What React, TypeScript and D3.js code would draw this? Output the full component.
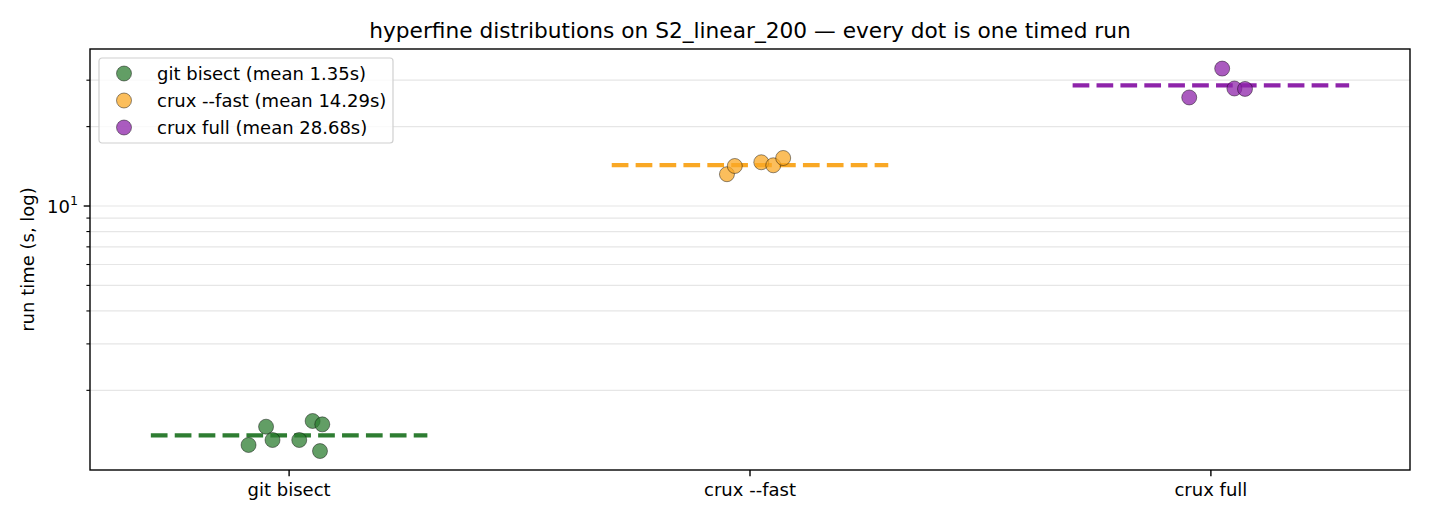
import React, { useEffect, useRef } from 'react';
import * as d3 from 'd3';

const WIDTH = 1430;
const HEIGHT = 520;

// categories along x
const categories = ['git bisect', 'crux --fast', 'crux full'];
const legendLabels = [
  'git bisect (mean 1.35s)',
  'crux --fast (mean 14.29s)',
  'crux full (mean 28.68s)',
];
const lineColors = ['#2e7d32', '#f9a825', '#8e24aa'];
const means = [1.35, 14.29, 28.68];

// per-run timings (seconds) and their horizontal jitter
const gitRuns = [1.241, 1.456, 1.296, 1.296, 1.53, 1.486, 1.177];
const gitJitter = [-0.088, -0.05, -0.036, 0.022, 0.051, 0.072, 0.067];
const fastRuns = [13.2, 14.18, 14.65, 14.27, 15.21];
const fastJitter = [-0.05, -0.033, 0.0245, 0.0505, 0.072];
const fullRuns = [33.2, 25.8, 27.9, 27.8];
const fullJitter = [0.0245, -0.047, 0.051, 0.074];

const runs = [gitRuns, fastRuns, fullRuns];
const jitters = [gitJitter, fastJitter, fullJitter];

const minorTicks = [2, 3, 4, 5, 6, 7, 8, 9, 20, 30];

const App: React.FC = () => {
  const svgRef = useRef<SVGSVGElement>(null);

  useEffect(() => {
    if (!svgRef.current) return;
    const svg = d3.select(svgRef.current);
    svg.selectAll('*').remove();

    const margin = { top: 49, right: 20, bottom: 50, left: 90 };
    const x = d3
      .scaleLinear()
      .domain([-0.432, 2.432])
      .range([margin.left, WIDTH - margin.right]);
    const y = d3
      .scaleLog()
      .domain([0.9975, 39.39])
      .range([HEIGHT - margin.bottom, margin.top]);

    const font = 'DejaVu Sans, sans-serif';
    const fs = 18;
    const [x0, x1] = x.range();
    const [yb, yt] = y.range();

    // grid
    svg
      .append('g')
      .selectAll('line')
      .data([...minorTicks, 10])
      .join('line')
      .attr('x1', x0)
      .attr('x2', x1)
      .attr('y1', (d) => y(d))
      .attr('y2', (d) => y(d))
      .attr('stroke', '#e6e6e6')
      .attr('stroke-width', 1.2);

    // mean lines
    svg
      .append('g')
      .selectAll('line')
      .data(means)
      .join('line')
      .attr('x1', (_, i) => x(i - 0.3))
      .attr('x2', (_, i) => x(i + 0.3))
      .attr('y1', (d) => y(d))
      .attr('y2', (d) => y(d))
      .attr('stroke', (_, i) => lineColors[i])
      .attr('stroke-width', 4.3)
      .attr('stroke-dasharray', '16.7 7.2');

    // dots
    runs.forEach((vals, i) => {
      svg
        .append('g')
        .selectAll('circle')
        .data(vals)
        .join('circle')
        .attr('cx', (_, j) => x(i + jitters[i][j]))
        .attr('cy', (d) => y(d))
        .attr('r', 7.5)
        .attr('fill', lineColors[i])
        .attr('fill-opacity', 0.75)
        .attr('stroke', 'rgba(0,0,0,0.55)')
        .attr('stroke-width', 0.8);
    });

    // frame
    svg
      .append('rect')
      .attr('x', x0)
      .attr('y', yt)
      .attr('width', x1 - x0)
      .attr('height', yb - yt)
      .attr('fill', 'none')
      .attr('stroke', '#000')
      .attr('stroke-width', 1.4);

    // x ticks
    const xt = svg.append('g');
    categories.forEach((c, i) => {
      xt.append('line')
        .attr('x1', x(i))
        .attr('x2', x(i))
        .attr('y1', yb)
        .attr('y2', yb + 6.3)
        .attr('stroke', '#000')
        .attr('stroke-width', 1.4);
      xt.append('text')
        .attr('x', x(i))
        .attr('y', yb + 26)
        .attr('text-anchor', 'middle')
        .attr('font-family', font)
        .attr('font-size', fs)
        .text(c);
    });

    // y ticks
    const yg = svg.append('g');
    yg.selectAll('line.minor')
      .data(minorTicks)
      .join('line')
      .attr('x1', x0)
      .attr('x2', x0 - 3.6)
      .attr('y1', (d) => y(d))
      .attr('y2', (d) => y(d))
      .attr('stroke', '#000')
      .attr('stroke-width', 1.1);
    yg.append('line')
      .attr('x1', x0)
      .attr('x2', x0 - 6.3)
      .attr('y1', y(10))
      .attr('y2', y(10))
      .attr('stroke', '#000')
      .attr('stroke-width', 1.4);
    const lab = yg
      .append('text')
      .attr('x', x0 - 12)
      .attr('y', y(10) + 7)
      .attr('text-anchor', 'end')
      .attr('font-family', font)
      .attr('font-size', fs);
    lab.append('tspan').text('10');
    lab
      .append('tspan')
      .attr('dy', -8)
      .attr('font-size', 12.6)
      .text('1');

    // y label
    svg
      .append('text')
      .attr('transform', `translate(34,${(yt + yb) / 2})rotate(-90)`)
      .attr('text-anchor', 'middle')
      .attr('font-family', font)
      .attr('font-size', fs)
      .text('run time (s, log)');

    // title
    svg
      .append('text')
      .attr('x', (x0 + x1) / 2)
      .attr('y', 38)
      .attr('text-anchor', 'middle')
      .attr('font-family', font)
      .attr('font-size', 21.7)
      .text('hyperfine distributions on S2_linear_200 \u2014 every dot is one timed run');

    // legend
    const lg = svg.append('g').attr('transform', 'translate(99,58)');
    lg.append('rect')
      .attr('width', 294)
      .attr('height', 85)
      .attr('rx', 3)
      .attr('fill', 'rgba(255,255,255,0.8)')
      .attr('stroke', '#d0d0d0')
      .attr('stroke-width', 1.2);
    legendLabels.forEach((t, i) => {
      const cy = 15.5 + i * 27;
      lg.append('circle')
        .attr('cx', 25)
        .attr('cy', cy)
        .attr('r', 7.5)
        .attr('fill', lineColors[i])
        .attr('fill-opacity', 0.75)
        .attr('stroke', 'rgba(0,0,0,0.55)')
        .attr('stroke-width', 0.8);
      lg.append('text')
        .attr('x', 58)
        .attr('y', cy + 6.5)
        .attr('font-family', font)
        .attr('font-size', fs)
        .text(t);
    });
  }, []);

  return (
    <div style={{ position: 'fixed', left: 0, top: 0, background: '#fff' }}>
      <svg ref={svgRef} width={WIDTH} height={HEIGHT} style={{ display: 'block' }} />
    </div>
  );
};

export default App;
